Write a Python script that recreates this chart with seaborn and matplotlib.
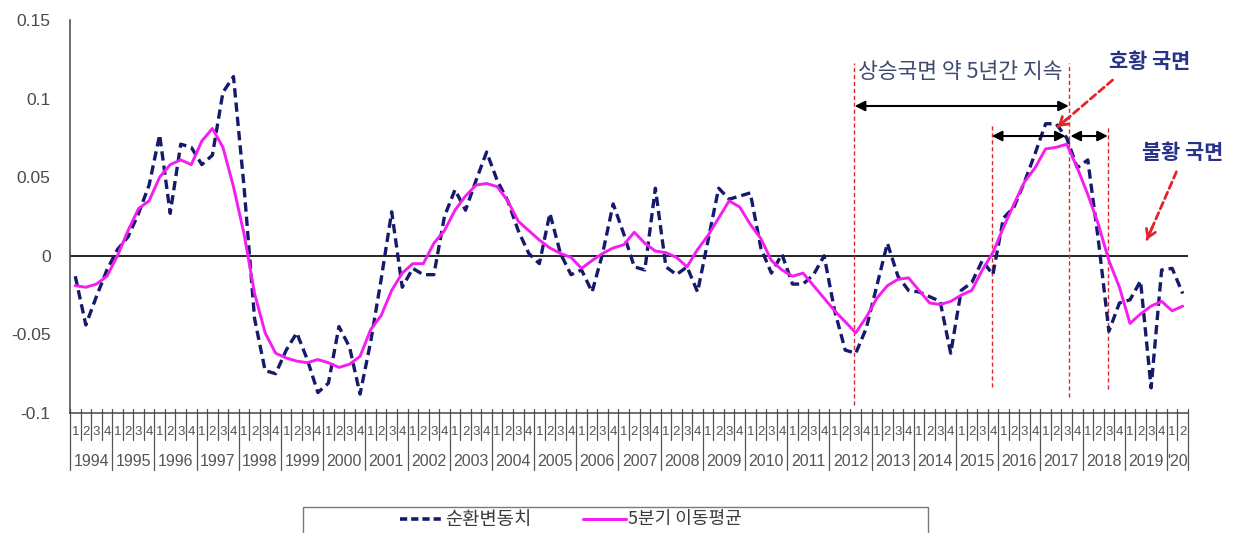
import numpy as np
import pandas as pd
import matplotlib
matplotlib.use("Agg")
import matplotlib.pyplot as plt
import matplotlib.transforms as mtransforms
from matplotlib.lines import Line2D
from matplotlib.patches import Rectangle
import seaborn as sns

# ---- data -------------------------------------------------------------
years = [str(y) for y in range(1994, 2020)] + ["'20"]
quarters = ["1", "2", "3", "4"]
series_names = ["순환변동치", "5분기 이동평균"]

# cyclical component, quarterly 1994Q1 - 2020Q2
cycle = [-0.013, -0.044, -0.026, -0.009, 0.004, 0.012, 0.027, 0.045, 0.077, 0.027,
         0.071, 0.069, 0.058, 0.064, 0.104, 0.114, 0.044, -0.040, -0.073, -0.075,
         -0.060, -0.049, -0.066, -0.087, -0.081, -0.045, -0.058, -0.088, -0.055, -0.015,
         0.028, -0.020, -0.008, -0.012, -0.012, 0.025, 0.042, 0.029, 0.048, 0.066,
         0.048, 0.035, 0.016, 0.0015, -0.005, 0.027, 0.0015, -0.012, -0.009, -0.023,
         0.0015, 0.033, 0.014, -0.007, -0.009, 0.043, -0.007, -0.012, -0.007, -0.023,
         0.010, 0.043, 0.036, 0.038, 0.040, 0.005, -0.011, 0.001, -0.018, -0.018,
         -0.012, 0.000, -0.035, -0.060, -0.062, -0.046, -0.019, 0.008, -0.013, -0.022,
         -0.023, -0.026, -0.029, -0.062, -0.022, -0.017, -0.003, -0.012, 0.024, 0.031,
         0.047, 0.065, 0.084, 0.084, 0.075, 0.056, 0.061, 0.010, -0.048, -0.030,
         -0.028, -0.016, -0.084, -0.009, -0.008, -0.024]

# 5-quarter moving average
moving_avg = [-0.019, -0.020, -0.018, -0.013, 0.000, 0.016, 0.030, 0.035, 0.050, 0.058,
              0.061, 0.058, 0.073, 0.081, 0.069, 0.044, 0.014, -0.024, -0.049, -0.062,
              -0.065, -0.067, -0.068, -0.066, -0.068, -0.071, -0.069, -0.064, -0.047, -0.038,
              -0.022, -0.011, -0.005, -0.005, 0.008, 0.016, 0.029, 0.038, 0.045, 0.046,
              0.044, 0.035, 0.022, 0.016, 0.010, 0.005, 0.0015, -0.001, -0.008, -0.003,
              0.0015, 0.005, 0.007, 0.015, 0.008, 0.003, 0.002, -0.001, -0.007, 0.004,
              0.013, 0.024, 0.035, 0.031, 0.020, 0.011, -0.003, -0.009, -0.013, -0.011,
              -0.019, -0.027, -0.035, -0.042, -0.049, -0.039, -0.027, -0.019, -0.015, -0.014,
              -0.022, -0.030, -0.031, -0.029, -0.025, -0.022, -0.009, 0.002, 0.018, 0.033,
              0.047, 0.056, 0.068, 0.069, 0.071, 0.056, 0.039, 0.020, -0.003, -0.020,
              -0.043, -0.037, -0.032, -0.029, -0.035, -0.032]

# ---- style ------------------------------------------------------------
NAVY = "#161a6c"
MAGENTA = "#f51ef0"
RED = "#e0262a"
TEXT_GRAY = "#4a4a4a"
AXIS_TEXT = "#555555"

sns.set_style("white")
plt.rcParams["font.family"] = ["Noto Sans CJK KR", "DejaVu Sans"]
plt.rcParams["axes.unicode_minus"] = False

W, H = 1255, 533
fig = plt.figure(figsize=(W / 100, H / 100), dpi=100)
ax = fig.add_axes([70 / W, 1 - 413 / H, (1188 - 70) / W, (413 - 20) / H])

t = np.arange(len(cycle))
df = pd.DataFrame({"t": t, "cycle": cycle, "ma": moving_avg})

sns.lineplot(data=df, x="t", y="cycle", ax=ax, color=NAVY, linewidth=2.4,
             errorbar=None, label=series_names[0], legend=False)
ax.lines[-1].set_linestyle((0, (2.8, 1.5)))
sns.lineplot(data=df, x="t", y="ma", ax=ax, color=MAGENTA, linewidth=2.1,
             errorbar=None, label=series_names[1], legend=False)

ax.axhline(0, color="black", lw=1.2, zorder=1)

ax.set_xlim(-0.5, len(cycle) - 0.5)
ax.set_ylim(-0.1, 0.15)
ax.set_xlabel("")
ax.set_ylabel("")

yt = [-0.1, -0.05, 0, 0.05, 0.1, 0.15]
ax.set_yticks(yt)
ax.set_yticklabels(["-0.1", "-0.05", "0", "0.05", "0.1", "0.15"],
                   fontfamily="Liberation Sans", fontsize=12.5, color=TEXT_GRAY)
ax.tick_params(axis="y", direction="out", length=3, width=1, color="#555555", pad=11)
ax.set_xticks([])

for s in ["top", "right"]:
    ax.spines[s].set_visible(False)
for s in ["left", "bottom"]:
    ax.spines[s].set_color("#444444")
    ax.spines[s].set_linewidth(1.1)

# ---- two-level category axis (quarter / year) -------------------------
trans = mtransforms.blended_transform_factory(ax.transData, ax.transAxes)
axh = 393.0
n = len(cycle)
for b in range(n + 1):
    xb = b - 0.5
    long_tick = (b % 4 == 0) or (b == n)
    y_low = -57 / axh if long_tick else -27 / axh
    ax.add_line(Line2D([xb, xb], [4 / axh, y_low], transform=trans, color="#555555",
                       lw=0.9, clip_on=False))

for k in range(n):
    ax.text(k, -19 / axh, quarters[k % 4], transform=trans, ha="center", va="center",
            fontsize=9.5, fontfamily="Liberation Sans", color=AXIS_TEXT)

for i, label in enumerate(years):
    start = 4 * i
    end = min(4 * i + 3, n - 1)
    ax.text((start + end) / 2, -48 / axh, label, transform=trans, ha="center",
            va="center", fontsize=11.5, fontfamily="Liberation Sans", color=AXIS_TEXT)

# ---- phase annotations ------------------------------------------------
ax.vlines([73.85, 94.2], ymin=[-0.0947, -0.0896], ymax=[0.1226, 0.1226],
          colors=RED, linestyles=(0, (3, 2)), lw=1.0, zorder=1)
ax.vlines([86.9, 97.95], ymin=[-0.0832, -0.085], ymax=[0.0845, 0.082],
          colors=RED, linestyles=(0, (3, 2)), lw=1.0, zorder=1)

arrow_kw = dict(arrowstyle="<|-|>", color="black", lw=1.5, mutation_scale=15,
                shrinkA=0, shrinkB=0)
ax.annotate("", xy=(94.2, 0.0953), xytext=(73.9, 0.0953), arrowprops=arrow_kw)
ax.annotate("", xy=(93.9, 0.0762), xytext=(86.9, 0.0762), arrowprops=arrow_kw)
ax.annotate("", xy=(97.9, 0.0762), xytext=(94.35, 0.0762), arrowprops=arrow_kw)

ax.text(74.2, 0.117, "상승국면 약 5년간 지속", ha="left", va="center",
        fontsize=15.5, color="#3e4a6e")

ax.text(98.0, 0.1233, "호황 국면", ha="left", va="center", fontsize=15,
        fontweight="bold", color="#27338a")
ax.text(101.1, 0.0654, "불황 국면", ha="left", va="center", fontsize=15,
        fontweight="bold", color="#27338a")


def dashed_pointer(start, tip):
    ax.annotate("", xy=tip, xytext=start,
                arrowprops=dict(arrowstyle="-", color=RED, lw=2.0,
                                linestyle=(0, (2.5, 1.5)), shrinkA=0, shrinkB=0))
    back = (tip[0] + 0.18 * (start[0] - tip[0]), tip[1] + 0.18 * (start[1] - tip[1]))
    ax.annotate("", xy=tip, xytext=back,
                arrowprops=dict(arrowstyle="->,head_length=0.55,head_width=0.35",
                                color=RED, lw=2.0, shrinkA=0, shrinkB=0))


dashed_pointer((98.35, 0.1118), (93.15, 0.0820))
dashed_pointer((104.4, 0.0534), (101.6, 0.0102))

# ---- legend box along the bottom edge ---------------------------------
fig.add_artist(Rectangle((303 / W, -0.05), (928 - 303) / W, 0.05 + (1 - 507 / H),
                         transform=fig.transFigure, fill=False, edgecolor="#7a7a7a",
                         lw=1.0))
ly = 1 - 519 / H
fig.add_artist(Line2D([400 / W, 442 / W], [ly, ly], transform=fig.transFigure,
                      color=NAVY, lw=2.6, linestyle=(0, (2.0, 1.1))))
fig.text(445 / W, ly, series_names[0], ha="left", va="center", fontsize=13.5,
         color="#3a3a3a")
fig.add_artist(Line2D([583 / W, 626 / W], [ly, ly], transform=fig.transFigure,
                      color=MAGENTA, lw=2.2))
fig.text(628 / W, ly, series_names[1], ha="left", va="center", fontsize=13,
         color="#3a3a3a")

fig.savefig("out.png", dpi=100, facecolor="white")
